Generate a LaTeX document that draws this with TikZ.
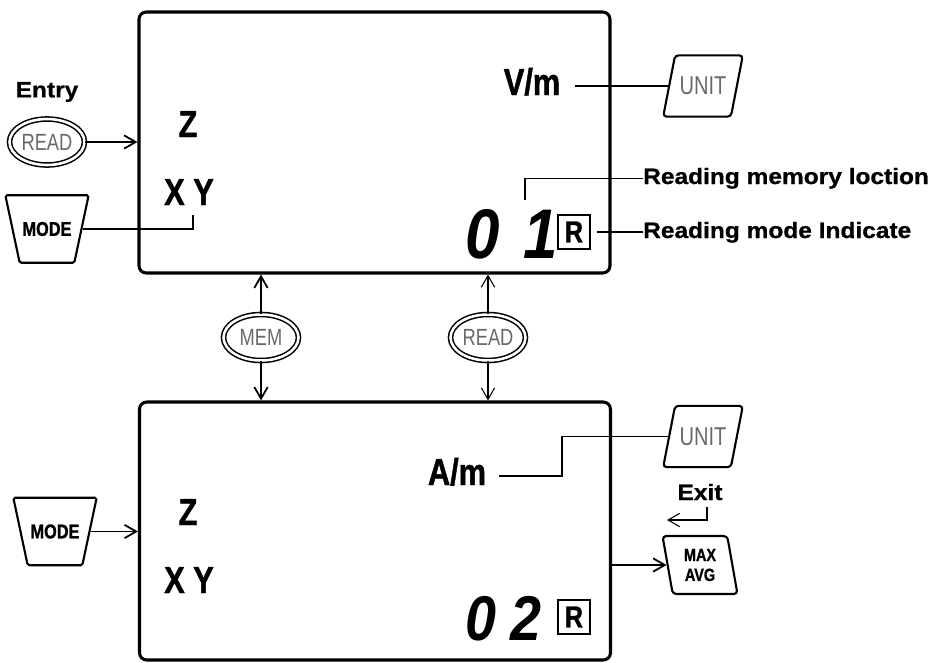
\documentclass[tikz,border=0pt]{standalone}
\usepackage{fontspec}
\setmainfont{Liberation Sans}
\newfontfamily\wideFont[FakeStretch=1.1, FakeBold=0.8]{Liberation Sans}
\newfontfamily\narrowFont[FakeStretch=0.82, FakeBold=1.2]{Liberation Sans}
\newfontfamily\keyFont[FakeStretch=0.78]{Liberation Sans}
\newfontfamily\segFont[FakeStretch=0.88]{Liberation Sans}
\usepackage{tikz}
\usetikzlibrary{shapes.geometric, arrows.meta, positioning, calc}
\definecolor{cKey}{RGB}{105,105,105}
\tikzset{
	lcd/.style     ={rectangle, draw=black, line width=2.6pt, rounded corners=2.2mm, minimum width=14.13cm, minimum height=7.83cm},
	oval/.style    ={ellipse, draw=black, line width=1.3pt, double, double distance=2.2pt, minimum width=2.25cm, minimum height=1.38cm, inner sep=0pt, text=cKey, font=\keyFont\fontsize{20}{20}\selectfont},
	modekey/.style ={trapezium, trapezium angle=78, shape border rotate=180, draw=black, line width=1.8pt, rounded corners=1.5pt, inner xsep=2.4pt, inner ysep=22.8pt, font=\narrowFont\bfseries\fontsize{17}{17}\selectfont},
	slantkey/.style={trapezium, trapezium left angle=79, trapezium right angle=101, draw=black, line width=1.8pt, rounded corners=3pt, inner xsep=3.8pt, inner ysep=18.5pt, text=cKey, font=\keyFont\fontsize{22}{22}\selectfont},
	maxkey/.style  ={trapezium, trapezium left angle=100, trapezium right angle=80, draw=black, line width=1.8pt, rounded corners=3pt, inner xsep=9.6pt, inner ysep=11pt, align=center, font=\narrowFont\bfseries\fontsize{15}{17}\selectfont},
	lbl/.style     ={inner sep=0pt, font=\wideFont\bfseries\fontsize{19}{19}\selectfont},
	lcdtxt/.style  ={inner sep=0pt, font=\narrowFont\bfseries\fontsize{32}{32}\selectfont},
	seg/.style     ={inner sep=0pt, font=\segFont\bfseries\itshape\fontsize{#1}{#1}\selectfont},
	rbox/.style    ={rectangle, draw=black, line width=1.4pt, minimum width=0.96cm, minimum height=1.02cm, inner sep=0pt, font=\narrowFont\bfseries\fontsize{26}{26}\selectfont},
	sig/.style     ={-{Straight Barb[length=3.5mm, width=4mm]}, line width=1.5pt},
	sigthin/.style ={-{Straight Barb[length=3.5mm, width=4mm]}, line width=0.9pt},
	link/.style    ={line width=1.5pt},
	tick/.style    ={line width=1pt},
}
\begin{document}
\begin{tikzpicture}[x=0.03cm, y=-0.03cm, node distance=0.5cm]
	\useasboundingbox (0,0) rectangle (941,662);
	\node[lcd] (topLcd) at (374.5,142.5) {};
	\node[lcd, minimum height=7.74cm] (botLcd) at (375,531) {};
	\node[oval] (entryRead) at (47,142) {READ};
	\node[lbl, above=0.48cm of entryRead] (entryLbl) {Entry};
	\node[modekey] (modeTop) at (47,229) {MODE};
	\node[lcdtxt, anchor=base] (zTop) at (188,137) {Z};
	\node[lcdtxt, anchor=base] (xyTop) at (189,205) {X Y};
	\node[lcdtxt, anchor=base] (vm) at (532,95) {V/m};
	\node[slantkey] (unitTop) at (703,86) {UNIT};
	\node[seg=60, anchor=base] (topD0) at (483,258) {0};
	\node[seg=60, anchor=base] (topD1) at (541,258) {1};
	\node[rbox] (topR) at (574,232) {R};
	\node[lbl, anchor=base west] (memLbl) at (643,184) {Reading memory loction};
	\node[lbl, anchor=base west] (modeLbl) at (643,238) {Reading mode Indicate};
	\coordinate (xyTap) at (193,215);
	\coordinate (memTap) at (525,200);
	\draw[sig] (entryRead.east) -- (entryRead.east -| topLcd.west);
	\draw[link] (modeTop.east) -| (xyTap);
	\draw[link, shorten <=0.45cm] (unitTop.west -| vm.east) -- (unitTop.west);
	\draw[tick] (memTap) |- (memLbl.west);
	\draw[tick, shorten <=0.2cm] (topR.east) -- (topR.east -| modeLbl.west);
	\node[oval] (mem) at (261,337.5) {MEM};
	\node[oval] (readMid) at (488,337.5) {READ};
	\draw[sig] (mem.north) -- (mem.north |- topLcd.south);
	\draw[sig] (mem.south) -- (mem.south |- botLcd.north);
	\draw[sigthin] (readMid.north) -- (readMid.north |- topLcd.south);
	\draw[sigthin] (readMid.south) -- (readMid.south |- botLcd.north);
	\node[modekey] (modeBot) at (55,531.5) {MODE};
	\node[lcdtxt, anchor=base] (zBot) at (188,525) {Z};
	\node[lcdtxt, anchor=base] (xyBot) at (189,593) {X Y};
	\node[lcdtxt, anchor=base] (am) at (457,485) {A/m};
	\node[slantkey] (unitBot) at (703,436.5) {UNIT};
	\node[lbl, anchor=base] (exitLbl) at (700,500) {Exit};
	\node[maxkey] (maxKey) at (700,565) {MAX\\AVG};
	\node[seg=54, anchor=base] (botD0) at (481,640) {0};
	\node[seg=54, anchor=base] (botD2) at (526,640) {2};
	\node[rbox] (botR) at (574,617) {R};
	\coordinate (amBend) at (562,476);
	\coordinate (exitTop) at (707,507);
	\coordinate (exitEnd) at (667,520);
	\draw[sig] (modeBot.east) -- (modeBot.east -| botLcd.west);
	\draw[link, shorten <=0.39cm] (am.east |- amBend) -- (amBend) |- (unitBot.west);
	\draw[sig] (maxKey.west -| botLcd.east) -- (maxKey.west);
	\draw[sigthin] (exitTop) |- (exitEnd);
\end{tikzpicture}
\end{document}
